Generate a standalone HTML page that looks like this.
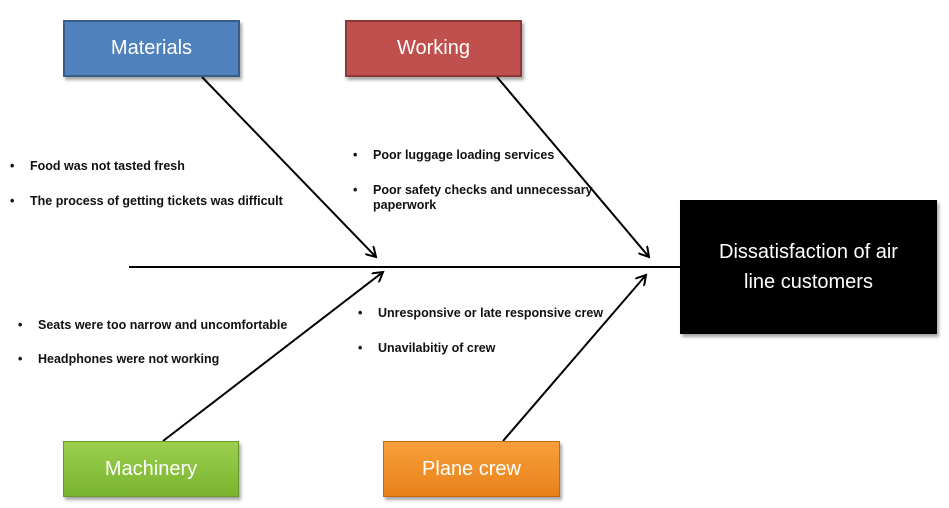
<!DOCTYPE html>
<html><head><style>
body{margin:0;background:#fff;width:949px;height:508px;position:relative;overflow:hidden;font-family:"Liberation Sans",sans-serif}
.box{position:absolute;display:flex;align-items:center;justify-content:center;color:#fff;font-size:20px;box-sizing:border-box;box-shadow:2px 3px 3px rgba(0,0,0,.35)}
.t{position:absolute;font-size:12.5px;font-weight:bold;color:#111;line-height:15px}
.t:before{content:"•";position:absolute;left:-20px}
</style></head><body>
<svg width="949" height="508" style="position:absolute;left:0;top:0">
<defs><marker id="a" markerWidth="12" markerHeight="12" refX="10" refY="6" orient="auto" markerUnits="userSpaceOnUse"><path d="M0,0 L10,6 L0,12" fill="none" stroke="#000" stroke-width="2"/></marker></defs>
<line x1="129" y1="267" x2="680" y2="267" stroke="#000" stroke-width="2"/>
<line x1="202" y1="77" x2="376" y2="257" stroke="#000" stroke-width="2" marker-end="url(#a)"/>
<line x1="497" y1="77" x2="649" y2="257" stroke="#000" stroke-width="2" marker-end="url(#a)"/>
<line x1="163" y1="441" x2="383" y2="272" stroke="#000" stroke-width="2" marker-end="url(#a)"/>
<line x1="503" y1="441" x2="646" y2="275" stroke="#000" stroke-width="2" marker-end="url(#a)"/>
</svg>
<div class="box" style="left:63px;top:20px;width:177px;height:57px;background:#4f81bd;border:2px solid #385d8a">Materials</div>
<div class="box" style="left:345px;top:20px;width:177px;height:57px;background:#c0504d;border:2px solid #8c3836">Working</div>
<div class="box" style="left:63px;top:441px;width:176px;height:56px;background:linear-gradient(#9bd04f,#7ab32e);border:1px solid #6a9a2a">Machinery</div>
<div class="box" style="left:383px;top:441px;width:177px;height:56px;background:linear-gradient(#f8a03a,#e9801a);border:1px solid #c86a10">Plane crew</div>
<div class="box" style="left:680px;top:200px;width:257px;height:134px;background:#000;font-size:20px;line-height:30px;text-align:center">Dissatisfaction of air<br>line customers</div>
<div class="t" style="left:30px;top:159px">Food was not tasted fresh</div>
<div class="t" style="left:30px;top:194px">The process of getting tickets was difficult</div>
<div class="t" style="left:373px;top:148px">Poor luggage loading services</div>
<div class="t" style="left:373px;top:183px;width:240px">Poor safety checks and unnecessary<br>paperwork</div>
<div class="t" style="left:38px;top:318px">Seats were too narrow and uncomfortable</div>
<div class="t" style="left:38px;top:352px">Headphones were not working</div>
<div class="t" style="left:378px;top:306px">Unresponsive or late responsive crew</div>
<div class="t" style="left:378px;top:341px">Unavilabitiy of crew</div>
</body></html>
